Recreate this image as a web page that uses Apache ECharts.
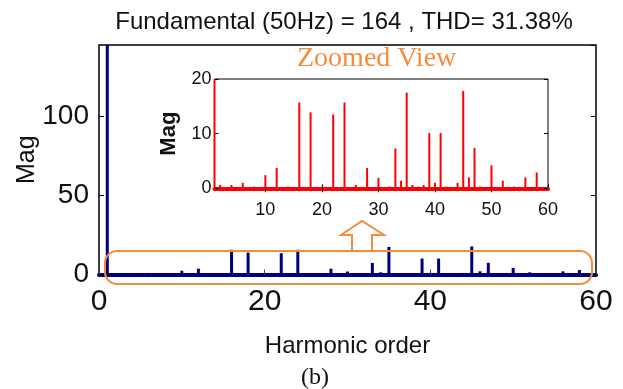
<!DOCTYPE html>
<html>
<head>
<meta charset="utf-8">
<script src="https://cdn.jsdelivr.net/npm/echarts@6/dist/echarts.min.js"></script>
<style>
  html, body { margin: 0; padding: 0; background: #fff; }
  #chart { width: 623px; height: 389px; }
</style>
</head>
<body>
<div id="chart"></div>
<script>
// Harmonic orders of the spectrum
const orders = [1, 2, 3, 4, 5, 6, 7, 8, 9, 10,
  11, 12, 13, 14, 15, 16, 17, 18, 19, 20,
  21, 22, 23, 24, 25, 26, 27, 28, 29, 30,
  31, 32, 33, 34, 35, 36, 37, 38, 39, 40,
  41, 42, 43, 44, 45, 46, 47, 48, 49, 50,
  51, 52, 53, 54, 55, 56, 57, 58, 59, 60];

// Magnitude of each harmonic (fundamental = 164)
const magnitudes = [164, 0.6, 0.2, 0.6, 0.2, 1.0, 0.2, 0.3, 0.2, 2.4,
  0.2, 3.7, 0.2, 0.3, 0.2, 15.7, 0.2, 13.9, 0.2, 0.3,
  0.2, 13.5, 0.2, 15.7, 0.2, 0.6, 0.2, 3.7, 0.2, 1.9,
  0.2, 0.3, 7.3, 1.4, 17.5, 0.6, 0.3, 0.6, 10.1, 1.0,
  10.1, 0.3, 0.2, 1.0, 17.8, 2.0, 7.4, 0.3, 0.2, 4.2,
  0.2, 1.4, 0.2, 0.3, 0.2, 2.0, 0.2, 2.9, 0.2, 0.3];

// Tick labels
const mainXTicks = [0, 20, 40, 60];
const mainYTicks = [0, 50, 100];
const insetXTicks = [10, 20, 30, 40, 50, 60];
const insetYTicks = [0, 10, 20];

const titleText = 'Fundamental (50Hz) = 164 , THD= 31.38%';

const sans = "'Liberation Sans', Arial, sans-serif";
const serif = "'Liberation Serif', 'Times New Roman', serif";
const NAVY = '#00007f';
const RED = '#ff0000';
const ORANGE = '#f68b3c';

const pairs = orders.map((h, i) => [h, magnitudes[i]]);

const chart = echarts.init(document.getElementById('chart'), null, { renderer: 'canvas' });

const onlyTicks = (list) => (v) => (list.indexOf(v) >= 0 ? String(v) : '');

chart.setOption({
  animation: false,
  backgroundColor: '#fff',
  grid: [
    { left: 99, top: 45, width: 497, height: 229.5, show: true, borderColor: '#000', borderWidth: 1.5,
      backgroundColor: 'transparent', outerBoundsMode: 'none', containLabel: false },
    { left: 214.5, top: 79, width: 333.5, height: 109.3, show: true, borderColor: '#000', borderWidth: 1,
      backgroundColor: '#fff', outerBoundsMode: 'none', containLabel: false }
  ],
  xAxis: [
    {
      gridIndex: 0, type: 'value', min: 0, max: 60,
      position: 'bottom',
      name: 'Harmonic order', nameLocation: 'middle', nameGap: 60,
      nameTextStyle: { fontFamily: sans, fontSize: 24, color: '#111' },
      axisLine: { show: true, onZero: false, lineStyle: { color: NAVY, width: 4 } },
      axisTick: { show: true, inside: true, length: 5, customValues: mainXTicks, lineStyle: { color: '#444' } },
      axisLabel: { customValues: mainXTicks, fontFamily: sans, fontSize: 30, color: '#111', margin: 12 },
      splitLine: { show: false }
    },
    {
      gridIndex: 1, type: 'value', min: 1, max: 60,
      position: 'bottom',
      axisLine: { show: true, onZero: false, lineStyle: { color: RED, width: 4 } },
      axisTick: { show: true, inside: true, length: 4, customValues: insetXTicks, lineStyle: { color: '#000' } },
      axisLabel: { customValues: insetXTicks, fontFamily: sans, fontSize: 18, color: '#111', margin: 13 },
      splitLine: { show: false }
    },
    {
      gridIndex: 1, type: 'value', min: 1, max: 60,
      position: 'top',
      axisLine: { show: false },
      axisTick: { show: true, inside: true, length: 4, customValues: [10, 20, 30, 40, 50], lineStyle: { color: '#000' } },
      axisLabel: { show: false },
      splitLine: { show: false }
    }
  ],
  yAxis: [
    {
      gridIndex: 0, type: 'value', min: 0, max: 145.4, interval: 50,
      name: 'Mag', nameLocation: 'middle', nameGap: 59, nameMoveOverlap: false,
      nameTextStyle: { fontFamily: sans, fontSize: 25, color: '#111' },
      axisLine: { show: false },
      axisTick: { show: true, inside: true, length: 5, lineStyle: { color: '#000' } },
      axisLabel: { showMaxLabel: false, formatter: onlyTicks(mainYTicks), fontFamily: sans, fontSize: 28, color: '#111', margin: 10 },
      splitLine: { show: false }
    },
    {
      gridIndex: 0, type: 'value', min: 0, max: 145.4, interval: 50, position: 'right',
      axisLine: { show: false },
      axisTick: { show: true, inside: true, length: 5, lineStyle: { color: '#000' } },
      axisLabel: { show: false },
      splitLine: { show: false }
    },
    {
      gridIndex: 1, type: 'value', min: 0, max: 20, interval: 10,
      name: 'Mag', nameLocation: 'middle', nameGap: 35,
      nameTextStyle: { fontFamily: sans, fontSize: 22, fontWeight: 'bold', color: '#111' },
      axisLine: { show: false },
      axisTick: { show: true, inside: true, length: 4, lineStyle: { color: '#000' } },
      axisLabel: { formatter: onlyTicks(insetYTicks), fontFamily: sans, fontSize: 18, color: '#111', margin: 3 },
      splitLine: { show: false }
    },
    {
      gridIndex: 1, type: 'value', min: 0, max: 20, interval: 10, position: 'right',
      axisLine: { show: false },
      axisTick: { show: true, inside: true, length: 4, lineStyle: { color: '#000' } },
      axisLabel: { show: false },
      splitLine: { show: false }
    }
  ],
  series: [
    {
      name: 'spectrum', type: 'bar', xAxisIndex: 0, yAxisIndex: 0,
      data: pairs, barWidth: 3, clip: true,
      itemStyle: { color: NAVY }, z: 3
    },
    {
      name: 'zoomed', type: 'bar', xAxisIndex: 1, yAxisIndex: 2,
      data: pairs, barWidth: 2, clip: true,
      itemStyle: { color: RED }, z: 3
    }
  ],
  graphic: [
    {
      type: 'text', x: 344, y: 22, z: 10,
      style: { text: titleText, fontFamily: sans, fontSize: 24, fill: '#111', align: 'center', verticalAlign: 'middle' }
    },
    {
      type: 'text', x: 297, y: 45, z: 10,
      style: { text: 'Zoomed View', fontFamily: serif, fontSize: 28, fill: ORANGE }
    },
    {
      type: 'rect', z: 20,
      shape: { x: 105, y: 251, width: 487, height: 33, r: 12 },
      style: { fill: 'none', stroke: ORANGE, lineWidth: 2 }
    },
    {
      type: 'polyline', z: 20,
      shape: { points: [[352, 251], [352, 235], [341, 235], [362, 221], [384, 235], [372, 235], [372, 251]] },
      style: { fill: 'none', stroke: ORANGE, lineWidth: 2 }
    },
    {
      type: 'text', x: 315, y: 378, z: 10,
      style: { text: '(b)', fontFamily: serif, fontSize: 24, fill: '#111', align: 'center', verticalAlign: 'middle' }
    }
  ]
});
</script>
</body>
</html>
